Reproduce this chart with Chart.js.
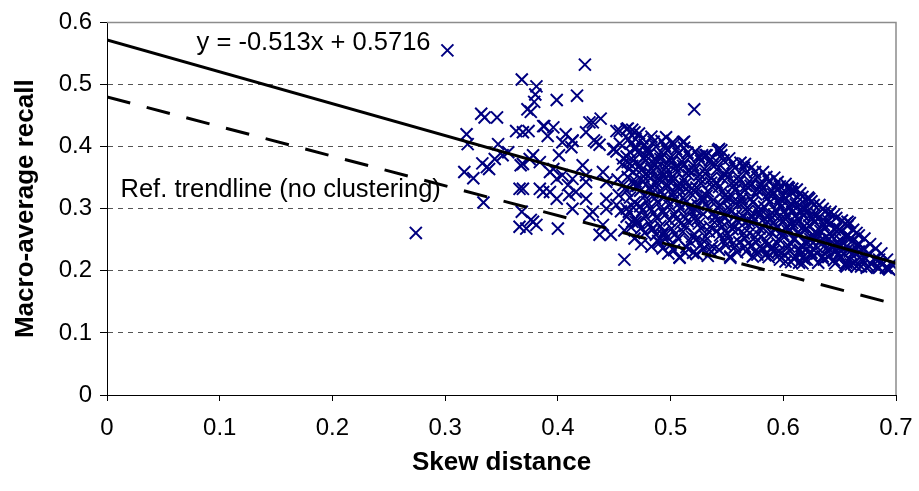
<!DOCTYPE html>
<html>
<head>
<meta charset="utf-8">
<script src="https://cdn.jsdelivr.net/npm/chart.js@4/dist/chart.umd.min.js"></script>
<style>
  html, body { margin: 0; padding: 0; background: #fff; }
</style>
</head>
<body>
<canvas id="grafico" width="919" height="491"></canvas>
<script>
// eixos
const xTicks = [0, 0.1, 0.2, 0.3, 0.4, 0.5, 0.6, 0.7];
const yTicks = [0, 0.1, 0.2, 0.3, 0.4, 0.5, 0.6];

// linhas de tendencia (extremos)
const trendX = [0, 0.7];
const trendY = [0.5716, 0.2125];
const refTrendY = [0.480, 0.146];

const equacao = 'y = -0.513x + 0.5716';
const refTexto = 'Ref. trendline (no clustering)';

// pontos isolados / borda da nuvem
const pontosSoltos = [
  [0.302,0.555],[0.274,0.261],[0.319,0.420],[0.320,0.404],[0.332,0.453],[0.335,0.447],
  [0.317,0.359],[0.325,0.349],[0.333,0.373],[0.337,0.367],[0.334,0.310],[0.339,0.364],
  [0.344,0.380],[0.347,0.404],[0.351,0.386],[0.356,0.391],[0.363,0.425],[0.369,0.423],
  [0.369,0.372],[0.366,0.332],[0.368,0.295],[0.366,0.271],[0.373,0.460],[0.368,0.508],
  [0.381,0.497],[0.380,0.484],[0.379,0.472],[0.376,0.456],[0.399,0.475],[0.417,0.482],
  [0.424,0.532],[0.521,0.460],[0.374,0.425],[0.387,0.433],[0.396,0.431],[0.391,0.417],
  [0.431,0.439],[0.438,0.445],[0.425,0.423],[0.407,0.420],[0.404,0.407],[0.413,0.409],
  [0.375,0.380],[0.367,0.370],[0.376,0.282],[0.381,0.274],[0.384,0.332],[0.387,0.327],
  [0.400,0.268],[0.378,0.386],[0.384,0.375],[0.393,0.359],[0.399,0.348],[0.404,0.354],
  [0.412,0.399],[0.401,0.386],[0.409,0.338],[0.416,0.327],[0.413,0.300],[0.425,0.316],
  [0.422,0.370],[0.425,0.354],[0.428,0.290],[0.437,0.258],[0.447,0.258],[0.440,0.274],
  [0.459,0.218],[0.443,0.316],[0.452,0.306],[0.461,0.300],[0.469,0.284],[0.393,0.327],
  [0.410,0.322],[0.399,0.316],[0.431,0.295],[0.443,0.300],[0.378,0.279],[0.372,0.268],
  [0.396,0.364],[0.413,0.348],[0.425,0.343],[0.440,0.359],[0.443,0.343],[0.449,0.396],
  [0.452,0.425],[0.461,0.428],[0.468,0.423],[0.388,0.433],[0.413,0.410],[0.428,0.439],
  [0.469,0.279],[0.484,0.268],[0.493,0.258],[0.369,0.332],[0.434,0.407],[0.437,0.403],
  [0.432,0.410],[0.346,0.447],[0.455,0.425],[0.462,0.429],[0.466,0.427],[0.469,0.412],
  [0.450,0.396],[0.496,0.415],[0.502,0.407],[0.512,0.408],[0.528,0.386],[0.545,0.394],
  [0.537,0.383],[0.511,0.407],[0.543,0.396],[0.531,0.386],[0.566,0.372],[0.580,0.340],
  [0.592,0.335],[0.604,0.335],[0.617,0.311],[0.508,0.221],[0.520,0.229],[0.553,0.221],
  [0.573,0.223],[0.584,0.225],[0.596,0.231],[0.602,0.215],[0.614,0.213],[0.657,0.279],
  [0.659,0.277],[0.667,0.231],[0.676,0.228],[0.685,0.218],[0.691,0.205],[0.676,0.207],
  [0.665,0.207],[0.656,0.207],[0.617,0.221],[0.623,0.316],[0.608,0.326],[0.641,0.292],
  [0.596,0.332],[0.608,0.332],[0.685,0.205],[0.694,0.202],[0.644,0.240],[0.651,0.232]
];

// nuvem densa
const pontosNuvem = [
  [0.452,0.392],[0.457,0.371],[0.458,0.338],[0.454,0.322],[0.456,0.296],
  [0.459,0.265],[0.455,0.405],[0.453,0.347],[0.458,0.381],
  [0.463,0.412],[0.468,0.398],[0.461,0.384],[0.466,0.369],[0.462,0.351],[0.469,0.336],
  [0.464,0.318],[0.467,0.302],[0.461,0.287],[0.465,0.270],[0.468,0.252],[0.462,0.375],
  [0.467,0.359],[0.464,0.391],[0.469,0.344],
  [0.472,0.421],[0.477,0.403],[0.471,0.391],[0.478,0.377],[0.474,0.362],[0.476,0.344],
  [0.473,0.329],[0.479,0.311],[0.475,0.297],[0.471,0.278],[0.477,0.261],[0.474,0.243],
  [0.478,0.385],[0.472,0.368],[0.476,0.352],[0.479,0.396],
  [0.483,0.416],[0.487,0.400],[0.481,0.388],[0.486,0.372],[0.482,0.357],[0.488,0.341],
  [0.484,0.326],[0.489,0.309],[0.485,0.293],[0.481,0.276],[0.487,0.258],[0.483,0.239],
  [0.488,0.366],[0.482,0.349],[0.486,0.381],[0.484,0.334],
  [0.492,0.409],[0.497,0.394],[0.491,0.380],[0.496,0.366],[0.493,0.352],[0.498,0.337],
  [0.494,0.321],[0.499,0.305],[0.495,0.290],[0.491,0.272],[0.497,0.254],[0.493,0.236],
  [0.498,0.228],[0.492,0.343],[0.496,0.359],[0.494,0.387],
  [0.503,0.404],[0.507,0.389],[0.501,0.375],[0.506,0.359],[0.502,0.345],[0.508,0.331],
  [0.504,0.316],[0.509,0.300],[0.505,0.284],[0.501,0.268],[0.507,0.251],[0.503,0.233],
  [0.508,0.222],[0.502,0.326],[0.506,0.338],[0.504,0.367],
  [0.512,0.398],[0.517,0.383],[0.511,0.369],[0.516,0.354],[0.513,0.340],[0.518,0.325],
  [0.514,0.311],[0.519,0.296],[0.515,0.280],[0.511,0.263],[0.517,0.247],[0.513,0.229],
  [0.518,0.305],[0.512,0.288],[0.516,0.361],[0.514,0.332],
  [0.522,0.392],[0.527,0.377],[0.521,0.362],[0.526,0.348],[0.523,0.334],[0.528,0.320],
  [0.524,0.306],[0.529,0.291],[0.525,0.276],[0.521,0.259],[0.527,0.243],[0.523,0.227],
  [0.528,0.315],[0.522,0.299],[0.526,0.355],[0.524,0.283],
  [0.532,0.386],[0.537,0.371],[0.531,0.356],[0.536,0.342],[0.533,0.328],[0.538,0.314],
  [0.534,0.300],[0.539,0.286],[0.535,0.271],[0.531,0.255],[0.537,0.239],[0.533,0.224],
  [0.538,0.293],[0.532,0.321],[0.536,0.349],[0.534,0.263],
  [0.542,0.394],[0.547,0.378],[0.541,0.363],[0.546,0.349],[0.543,0.335],[0.548,0.321],
  [0.544,0.307],[0.549,0.293],[0.545,0.279],[0.541,0.264],[0.547,0.249],[0.543,0.234],
  [0.548,0.287],[0.542,0.301],[0.546,0.328],[0.544,0.257],
  [0.552,0.381],[0.557,0.366],[0.551,0.351],[0.556,0.337],[0.553,0.323],[0.558,0.309],
  [0.554,0.295],[0.559,0.281],[0.555,0.267],[0.551,0.252],[0.557,0.238],[0.553,0.223],
  [0.558,0.290],[0.552,0.316],[0.556,0.344],[0.554,0.274],
  [0.562,0.374],[0.567,0.358],[0.561,0.344],[0.566,0.330],[0.563,0.316],[0.568,0.302],
  [0.564,0.288],[0.569,0.274],[0.565,0.260],[0.561,0.246],[0.567,0.231],[0.563,0.283],
  [0.568,0.296],[0.562,0.323],[0.566,0.252],[0.564,0.309],
  [0.572,0.367],[0.577,0.351],[0.571,0.337],[0.576,0.323],[0.573,0.310],[0.578,0.296],
  [0.574,0.282],[0.579,0.268],[0.575,0.254],[0.571,0.240],[0.577,0.226],[0.573,0.278],
  [0.578,0.303],[0.572,0.289],[0.576,0.246],
  [0.582,0.359],[0.587,0.344],[0.581,0.330],[0.586,0.317],[0.583,0.303],[0.588,0.290],
  [0.584,0.276],[0.589,0.262],[0.585,0.248],[0.581,0.235],[0.587,0.222],[0.583,0.284],
  [0.588,0.310],[0.582,0.269],[0.586,0.241],
  [0.592,0.350],[0.597,0.336],[0.591,0.323],[0.596,0.310],[0.593,0.297],[0.598,0.284],
  [0.594,0.270],[0.599,0.257],[0.595,0.244],[0.591,0.231],[0.597,0.218],[0.593,0.266],
  [0.598,0.303],[0.592,0.290],[0.596,0.251],
  [0.602,0.340],[0.607,0.327],[0.601,0.315],[0.606,0.302],[0.603,0.289],[0.608,0.277],
  [0.604,0.264],[0.609,0.251],[0.605,0.239],[0.601,0.226],[0.607,0.214],[0.603,0.271],
  [0.608,0.295],[0.602,0.283],[0.606,0.245],
  [0.612,0.331],[0.617,0.319],[0.611,0.307],[0.616,0.295],[0.613,0.283],[0.618,0.271],
  [0.614,0.258],[0.619,0.246],[0.615,0.234],[0.611,0.222],[0.617,0.212],[0.613,0.262],
  [0.618,0.289],[0.612,0.276],[0.616,0.240],
  [0.622,0.318],[0.627,0.306],[0.621,0.295],[0.626,0.284],[0.623,0.273],[0.628,0.262],
  [0.624,0.251],[0.629,0.240],[0.625,0.229],[0.621,0.218],[0.627,0.256],[0.623,0.288],
  [0.628,0.278],[0.622,0.245],
  [0.632,0.306],[0.637,0.295],[0.631,0.285],[0.636,0.274],[0.633,0.264],[0.638,0.254],
  [0.634,0.243],[0.639,0.233],[0.635,0.223],[0.631,0.213],[0.637,0.268],[0.633,0.249],
  [0.642,0.295],[0.647,0.285],[0.641,0.275],[0.646,0.266],[0.643,0.256],[0.648,0.246],
  [0.644,0.237],[0.649,0.227],[0.645,0.217],[0.641,0.260],[0.647,0.232],
  [0.652,0.281],[0.657,0.272],[0.651,0.263],[0.656,0.254],[0.653,0.245],[0.658,0.236],
  [0.654,0.227],[0.659,0.218],[0.655,0.209],[0.651,0.240],
  [0.662,0.266],[0.667,0.257],[0.661,0.248],[0.666,0.240],[0.663,0.231],[0.668,0.222],
  [0.664,0.214],[0.669,0.207],
  [0.672,0.252],[0.677,0.243],[0.671,0.235],[0.676,0.227],[0.673,0.219],[0.678,0.211],
  [0.674,0.205],
  [0.682,0.236],[0.687,0.228],[0.681,0.220],[0.686,0.213],[0.683,0.206],
  [0.692,0.218],[0.696,0.211],[0.693,0.204]
];

// miolo da nuvem (pontos sobrepostos)
const pontosMiolo = [
  [0.465,0.405],[0.467,0.378],[0.463,0.364],[0.466,0.344],[0.461,0.329],
  [0.468,0.310],[0.463,0.295],[0.466,0.279],
  [0.475,0.413],[0.470,0.398],[0.476,0.382],[0.473,0.370],[0.478,0.356],[0.471,0.337],
  [0.477,0.320],[0.473,0.304],[0.478,0.287],[0.474,0.269],
  [0.485,0.408],[0.480,0.394],[0.487,0.378],[0.483,0.364],[0.489,0.349],[0.481,0.333],
  [0.486,0.317],[0.482,0.301],[0.488,0.284],[0.484,0.267],[0.489,0.248],
  [0.495,0.401],[0.490,0.387],[0.497,0.373],[0.492,0.359],[0.499,0.344],[0.491,0.329],
  [0.497,0.313],[0.493,0.297],[0.499,0.281],[0.494,0.263],[0.490,0.245],
  [0.505,0.396],[0.500,0.382],[0.507,0.367],[0.502,0.352],[0.509,0.338],[0.501,0.323],
  [0.507,0.308],[0.503,0.292],[0.509,0.276],[0.504,0.259],[0.500,0.242],
  [0.515,0.390],[0.510,0.376],[0.517,0.362],[0.512,0.347],[0.519,0.333],[0.511,0.318],
  [0.517,0.303],[0.513,0.272],[0.519,0.255],[0.514,0.238],
  [0.525,0.384],[0.520,0.370],[0.527,0.341],[0.522,0.327],[0.529,0.313],[0.521,0.284],
  [0.527,0.268],[0.523,0.251],[0.529,0.235],
  [0.535,0.378],[0.530,0.364],[0.537,0.335],[0.531,0.307],[0.539,0.278],[0.530,0.247],
  [0.536,0.231],
  [0.545,0.386],[0.540,0.371],[0.547,0.356],[0.541,0.342],[0.549,0.314],[0.540,0.286],
  [0.546,0.271],[0.549,0.241],
  [0.555,0.373],[0.550,0.359],[0.557,0.330],[0.551,0.302],[0.550,0.260],[0.556,0.245],
  [0.559,0.230],
  [0.565,0.366],[0.560,0.351],[0.567,0.337],[0.561,0.309],[0.569,0.281],[0.560,0.267],
  [0.566,0.239],
  [0.575,0.359],[0.570,0.344],[0.577,0.330],[0.571,0.316],[0.579,0.289],[0.570,0.261],
  [0.576,0.233],
  [0.585,0.351],[0.580,0.337],[0.587,0.324],[0.581,0.297],[0.589,0.283],[0.580,0.255],
  [0.586,0.229],
  [0.595,0.343],[0.590,0.329],[0.597,0.316],[0.591,0.277],[0.599,0.264],[0.590,0.238],
  [0.596,0.225],
  [0.605,0.333],[0.600,0.321],[0.607,0.308],[0.601,0.296],[0.609,0.270],[0.600,0.258],
  [0.606,0.232],[0.609,0.220],
  [0.615,0.325],[0.610,0.313],[0.617,0.301],[0.611,0.289],[0.619,0.265],[0.610,0.252],
  [0.616,0.228],[0.619,0.218],
  [0.625,0.312],[0.620,0.300],[0.627,0.290],[0.621,0.268],[0.629,0.250],[0.620,0.234],
  [0.626,0.223],
  [0.635,0.300],[0.630,0.290],[0.637,0.280],[0.631,0.259],[0.639,0.238],[0.630,0.228],
  [0.636,0.218],
  [0.645,0.290],[0.640,0.280],[0.647,0.270],[0.641,0.251],[0.649,0.241],[0.640,0.222],
  [0.646,0.212],
  [0.655,0.276],[0.650,0.267],[0.657,0.258],[0.651,0.249],[0.659,0.231],[0.650,0.222],
  [0.656,0.213],
  [0.665,0.261],[0.660,0.253],[0.667,0.244],[0.661,0.226],[0.669,0.218],[0.660,0.210]
];

const todosPontos = pontosSoltos.concat(pontosNuvem, pontosMiolo).map(p => ({ x: p[0], y: p[1] }));

const fonte = '"Liberation Sans", Arial, sans-serif';

// moldura cinza em cima/direita + textos
const extras = {
  id: 'extras',
  afterDraw(chart) {
    const { ctx, chartArea: a, scales } = chart;
    ctx.save();
    ctx.strokeStyle = '#8c8c8c';
    ctx.lineWidth = 1.5;
    ctx.beginPath();
    ctx.moveTo(a.left, a.top);
    ctx.lineTo(a.right, a.top);
    ctx.lineTo(a.right, a.bottom);
    ctx.stroke();

    ctx.fillStyle = '#000';
    ctx.font = '25.5px ' + fonte;
    ctx.textBaseline = 'alphabetic';
    ctx.textAlign = 'left';
    ctx.fillText(equacao, scales.x.getPixelForValue(0.0795), scales.y.getPixelForValue(0.556));
    ctx.fillText(refTexto, scales.x.getPixelForValue(0.012), scales.y.getPixelForValue(0.319));
    ctx.restore();
  }
};

new Chart(document.getElementById('grafico'), {
  type: 'scatter',
  data: {
    datasets: [
      {
        type: 'line',
        data: trendX.map((v, i) => ({ x: v, y: trendY[i] })),
        borderColor: '#000',
        borderWidth: 3,
        pointRadius: 0,
        order: 0
      },
      {
        type: 'line',
        data: trendX.map((v, i) => ({ x: v, y: refTrendY[i] })),
        borderColor: '#000',
        borderWidth: 3,
        borderDash: [24, 17],
        pointRadius: 0,
        order: 0
      },
      {
        data: todosPontos,
        pointStyle: 'crossRot',
        pointRadius: 8.5,
        pointBorderWidth: 2,
        borderColor: '#000080',
        backgroundColor: '#000080',
        order: 1
      }
    ]
  },
  options: {
    responsive: false,
    animation: false,
    devicePixelRatio: 1,
    layout: { padding: { top: 19, right: 23, left: 0, bottom: 0 } },
    plugins: { legend: { display: false }, tooltip: { enabled: false } },
    scales: {
      x: {
        type: 'linear',
        min: 0,
        max: 0.7,
        afterBuildTicks: s => { s.ticks = xTicks.map(v => ({ value: v })); },
        afterFit: s => { s.height = 96; s.paddingLeft = 0; s.paddingRight = 0; },
        ticks: { color: '#000', font: { family: fonte, size: 24 }, padding: 13, maxRotation: 0, callback: v => String(v) },
        grid: { drawOnChartArea: false, tickLength: 6, tickColor: '#000' },
        border: { color: '#000', width: 1 },
        title: { display: true, text: 'Skew distance', color: '#000', font: { family: fonte, size: 26, weight: 'bold' }, padding: { bottom: 13 } }
      },
      y: {
        min: 0,
        max: 0.6,
        afterBuildTicks: s => { s.ticks = yTicks.map(v => ({ value: v })); },
        afterFit: s => { s.width = 107; },
        ticks: { color: '#000', font: { family: fonte, size: 24 }, padding: 8, callback: v => String(v) },
        grid: {
          tickLength: 7,
          tickColor: '#000',
          color: c => (c.tick && (c.tick.value === 0 || c.tick.value === 0.6)) ? 'rgba(0,0,0,0)' : '#555'
        },
        border: { color: '#000', width: 1, dash: [5, 5] },
        title: { display: true, text: 'Macro-average recall', color: '#000', font: { family: fonte, size: 26, weight: 'bold' }, padding: { top: 10 } }
      }
    }
  },
  plugins: [extras]
});
</script>
</body>
</html>
